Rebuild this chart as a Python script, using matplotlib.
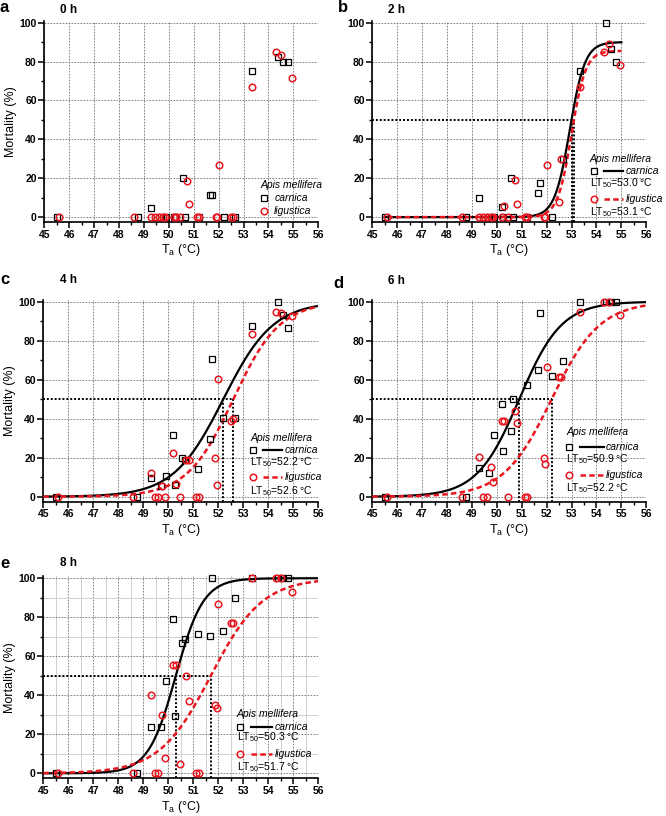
import numpy as np
import matplotlib
matplotlib.use("Agg")
import matplotlib.pyplot as plt
from matplotlib.ticker import MultipleLocator

plt.rcParams['font.family'] = ['Liberation Sans', 'DejaVu Sans']
plt.rcParams['mathtext.fontset'] = 'custom'
plt.rcParams['mathtext.rm'] = 'Liberation Sans'
plt.rcParams['mathtext.it'] = 'Liberation Sans:italic'
plt.rcParams['mathtext.bf'] = 'Liberation Sans:bold'

# ---------------- data ----------------
T_CAR = [45.5, 48.75, 49.3, 49.7, 49.9, 50.2, 50.25, 50.55, 50.65, 51.2, 51.65, 51.75,
         52.2, 52.65, 53.35, 54.4, 54.6, 54.8]
CAR_0H = [0, 0, 4.8, 0, 0, 0, 0, 20, 0, 0, 11.6, 11.6, 0, 0, 75.2, 82.4, 80, 80]
CAR_2H = [0, 0, 9.6, 0, 0, 5.3, 0, 19.9, 0, 0, 12.2, 17.6, 0, 30, 75.2, 100, 86.5, 80]
CAR_4H = [0, 0, 9.8, 5.5, 10.8, 31.8, 6.2, 20, 18.8, 14.2, 29.4, 70.6, 40.2, 40.2, 87.6, 100, 93, 86.6]
CAR_6H = [0, 0, 14.5, 12, 31.6, 47.4, 23.6, 33.7, 50, 57.3, 64.8, 94, 62, 69.7, 100, 100, 100, 100]
CAR_8H = [0, 0, 23.6, 23.6, 47.4, 79, 29.5, 66.8, 68.7, 71.5, 70.5, 100, 73.2, 89.8, 100, 100, 100, 100]

T_LIG = [45.6, 48.6, 49.3, 49.45, 49.6, 49.75, 49.85, 50.2, 50.3, 50.45, 50.72, 50.82,
         51.12, 51.22, 51.88, 51.95, 52.0, 52.5, 52.58, 53.35, 54.3, 54.5, 54.95]
LIG_0H = [0, 0, 0, 0, 0, 0, 0, 0, 0, 0, 18.6, 6.5, 0, 0, 0, 0, 26.7, 0, 0, 66.8, 84.9, 83.6, 71.6]
LIG_2H = [0, 0, 0, 0, 0, 0, 0, 0, 5.8, 0, 19, 6.5, 0, 0, 0, 0, 26.7, 7.9, 29.8, 67, 84.9, 89.2, 78.4]
LIG_4H = [0, 0, 12, 0, 0, 5.5, 0, 22.5, 6.5, 0, 18.8, 18.8, 0, 0, 20, 6, 60.2, 38.8, 40, 83.2, 94.9, 94.4, 92.6]
LIG_6H = [0, 0, 20.2, 0, 0, 15, 7.7, 39, 39, 0, 43.9, 37.6, 0, 0, 20, 16.8, 66.7, 61.5, 61.5, 94.5, 100, 100, 93.2]
LIG_8H = [0, 0, 40, 0, 0, 30, 7.9, 55.5, 55.5, 5, 49.7, 37.3, 0, 0, 35, 33.3, 86.7, 76.9, 76.9, 100, 100, 100, 93]

PANELS = ['a', 'b', 'c', 'd', 'e']
TIMES = ['0 h', '2 h', '4 h', '6 h', '8 h']
LT50_CAR = [None, 53.0, 52.2, 50.9, 50.3]
LT50_LIG = [None, 53.1, 52.6, 52.2, 51.7]
# fitted logistic curve parameters (top, midpoint, slope, x-range)
FIT_CAR = [None, (90, 52.93, 0.305, 45.5, 55.0), (100, 52.2, 1.0, 45, 56),
           (100, 50.9, 0.85, 45, 56), (100, 50.3, 0.55, 45, 56)]
FIT_LIG = [None, (85.5, 53.0, 0.28, 45.6, 55.0), (100, 52.6, 0.93, 45, 56),
           (100, 52.2, 0.97, 45, 56), (100, 51.7, 1.03, 45, 56)]

CAR_Y = [CAR_0H, CAR_2H, CAR_4H, CAR_6H, CAR_8H]
LIG_Y = [LIG_0H, LIG_2H, LIG_4H, LIG_6H, LIG_8H]

RED = '#e8161e'
W, H = 666, 816

# axes boxes in pixels: left, top, right, bottom
BOXES = [(44.3, 20.7, 318.3, 222.0), (372.3, 20.7, 646.3, 222.0),
         (43.3, 299.7, 318.3, 501.6), (372.3, 299.7, 646.3, 501.6),
         (43.3, 576.3, 318.3, 778.2)]
# legend layout (axes fraction)
LEG = [dict(tx=0.788, ty=0.183, mx=0.80, lx=None, txt=0.839, rows=[0.12, 0.055]),
       dict(tx=0.794, ty=0.312, mx=0.808, lx=(0.846, 0.916), txt=0.924, rows=[0.252, 0.191, 0.115, 0.05]),
       dict(tx=0.752, ty=0.313, mx=0.762, lx=(0.80, 0.868), txt=0.879, rows=[0.255, 0.194, 0.12, 0.054]),
       dict(tx=0.708, ty=0.346, mx=0.718, lx=(0.758, 0.844), txt=0.853, rows=[0.272, 0.211, 0.132, 0.066]),
       dict(tx=0.703, ty=0.317, mx=0.714, lx=(0.756, 0.832), txt=0.843, rows=[0.255, 0.203, 0.12, 0.054])]
TITLE_POS = [(0, 8, 60, 10), (338, 8, 388, 10), (0, 280, 60, 280), (333, 283, 388, 281), (0, 563, 60, 563)]

YMIN, YMAX = -2.5, 101
LEGFS = 7.5

fig = plt.figure(figsize=(W / 100, H / 100), dpi=100)


def logistic(x, top, x0, s):
    return top / (1 + np.exp(-(x - x0) / s))


for i in range(5):
    l, t, r, b = BOXES[i]
    ax = fig.add_axes([l / W, 1 - b / H, (r - l) / W, (b - t) / H])
    ax.set_xlim(45, 56)
    ax.set_ylim(YMIN, YMAX)
    ax.xaxis.set_major_locator(MultipleLocator(1))
    ax.xaxis.set_minor_locator(MultipleLocator(0.5))
    ax.yaxis.set_major_locator(MultipleLocator(20))
    ax.yaxis.set_minor_locator(MultipleLocator(10))
    for sp in ['top', 'right']:
        ax.spines[sp].set_visible(False)
    for sp in ['left', 'bottom']:
        ax.spines[sp].set_linewidth(1.2)
    ax.tick_params(which='major', direction='out', length=4, width=1.1, labelsize=7.5, pad=1.5)
    ax.tick_params(which='minor', direction='out', length=2.2, width=1.0)
    for lab in ax.get_xticklabels() + ax.get_yticklabels():
        lab.set_fontweight('bold')
    if i == 4:
        ax.grid(which='minor', color='#d0d0d0', lw=0.7, ls='-', zorder=0)
    ax.grid(which='major', color='#707070', lw=0.6, ls=(0, (2, 1.6)), zorder=0.5)
    ax.set_axisbelow(True)

    ax.set_xlabel(r'T$_\mathrm{a}$ (°C)', fontsize=9, labelpad=2)
    if i in (0, 2, 4):
        ax.set_ylabel('Mortality (%)', fontsize=9, labelpad=2)

    # LT50 dotted lines
    if LT50_CAR[i] is not None:
        xs = [LT50_CAR[i], LT50_LIG[i]]
        ax.plot([45, max(xs)], [50, 50], color='black', ls=(0, (1, 1)), lw=1.4, zorder=2)
        for xv in xs:
            ax.plot([xv, xv], [YMIN, 50], color='black', ls=(0, (1, 1)), lw=1.4, zorder=2)
        # fitted curves
        tp, x0, s, xa, xb = FIT_CAR[i]
        xx = np.linspace(xa, xb, 300)
        ax.plot(xx, logistic(xx, tp, x0, s), color='black', lw=1.6, zorder=3)
        tp, x0, s, xa, xb = FIT_LIG[i]
        xx = np.linspace(xa, xb, 300)
        ax.plot(xx, logistic(xx, tp, x0, s), color=RED, lw=1.8, ls=(0, (2.2, 1.3)), zorder=3)

    ax.plot(T_CAR, CAR_Y[i], ls='none', marker='s', ms=3.9, mfc='none', mec='black', mew=0.9,
            zorder=4, clip_on=False)
    ax.plot(T_LIG, LIG_Y[i], ls='none', marker='o', ms=4.7, mfc='none', mec=RED, mew=1.1,
            zorder=4, clip_on=False)

    # legend (manual)
    lg = LEG[i]
    ax.text(lg['tx'], lg['ty'], 'Apis mellifera', style='italic', fontsize=LEGFS,
            transform=ax.transAxes, va='center', ha='left')
    rows = lg['rows']
    if lg['lx'] is None:
        ry_c, ry_l = rows[0], rows[1]
    else:
        ry_c, ry_l = rows[0], rows[2]
    ax.plot([lg['mx']], [ry_c], transform=ax.transAxes, marker='s', ms=3.9, mfc='none',
            mec='black', mew=0.9, clip_on=False)
    ax.plot([lg['mx']], [ry_l], transform=ax.transAxes, marker='o', ms=4.7, mfc='none',
            mec=RED, mew=1.1, clip_on=False)
    if lg['lx'] is not None:
        ax.plot(lg['lx'], [ry_c, ry_c], transform=ax.transAxes, color='black', lw=1.6, clip_on=False)
        ax.plot(lg['lx'], [ry_l, ry_l], transform=ax.transAxes, color=RED, lw=1.8,
                ls=(0, (2.2, 1.3)), clip_on=False)
    ax.text(lg['txt'], ry_c, 'carnica', style='italic', fontsize=LEGFS, transform=ax.transAxes,
            va='center', ha='left')
    ax.text(lg['txt'], ry_l, 'ligustica', style='italic', fontsize=LEGFS, transform=ax.transAxes,
            va='center', ha='left')
    if lg['lx'] is not None:
        ax.text(lg['tx'], rows[1], r'LT$_{50}$=%.1f °C' % LT50_CAR[i], fontsize=LEGFS,
                transform=ax.transAxes, va='center', ha='left')
        ax.text(lg['tx'], rows[3], r'LT$_{50}$=%.1f °C' % LT50_LIG[i], fontsize=LEGFS,
                transform=ax.transAxes, va='center', ha='left')

    lx, ly, tx, ty = TITLE_POS[i]
    fig.text(lx / W, 1 - ly / H, PANELS[i], fontsize=12, fontweight='bold', ha='left', va='center')
    fig.text(tx / W, 1 - ty / H, TIMES[i], fontsize=8.5, fontweight='bold', ha='left', va='center')

fig.savefig('out.png', dpi=100)
